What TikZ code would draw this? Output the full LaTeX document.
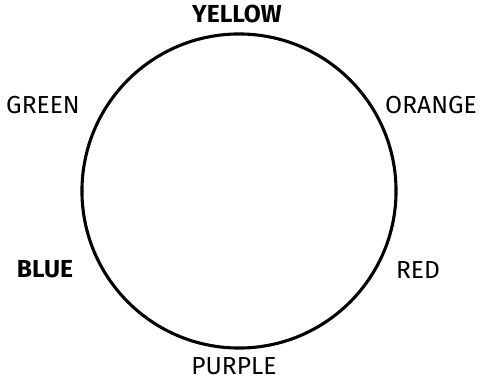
\documentclass[tikz,border=0pt]{standalone}
\usepackage{fontspec}
\setmainfont{Fira Sans}
\usetikzlibrary{positioning}

\begin{document}
\begin{tikzpicture}[
  x=0.025cm, y=-0.025cm,
  hue/.style={font=\fontsize{17.5}{20}\selectfont, inner sep=0pt},
  bold hue/.style={hue, font=\fontsize{17.5}{20}\selectfont\bfseries},
  wheel/.style={circle, draw, line width=2.2pt, minimum size=7.85cm, inner sep=0pt}
]
  \useasboundingbox (0,0) rectangle (480,380);
  \node[wheel] (w) at (239,191) {};
  \node[bold hue] (yellow) at (237,14)  {YELLOW};
  \node[hue]      (green)  at (43,105)  {GREEN};
  \node[hue]      (orange) at (431,105) {ORANGE};
  \node[bold hue] (blue)   at (45,269)  {BLUE};
  \node[hue]      (red)    at (418,270) {RED};
  \node[hue]      (purple) at (234,366) {PURPLE};
\end{tikzpicture}
\end{document}
